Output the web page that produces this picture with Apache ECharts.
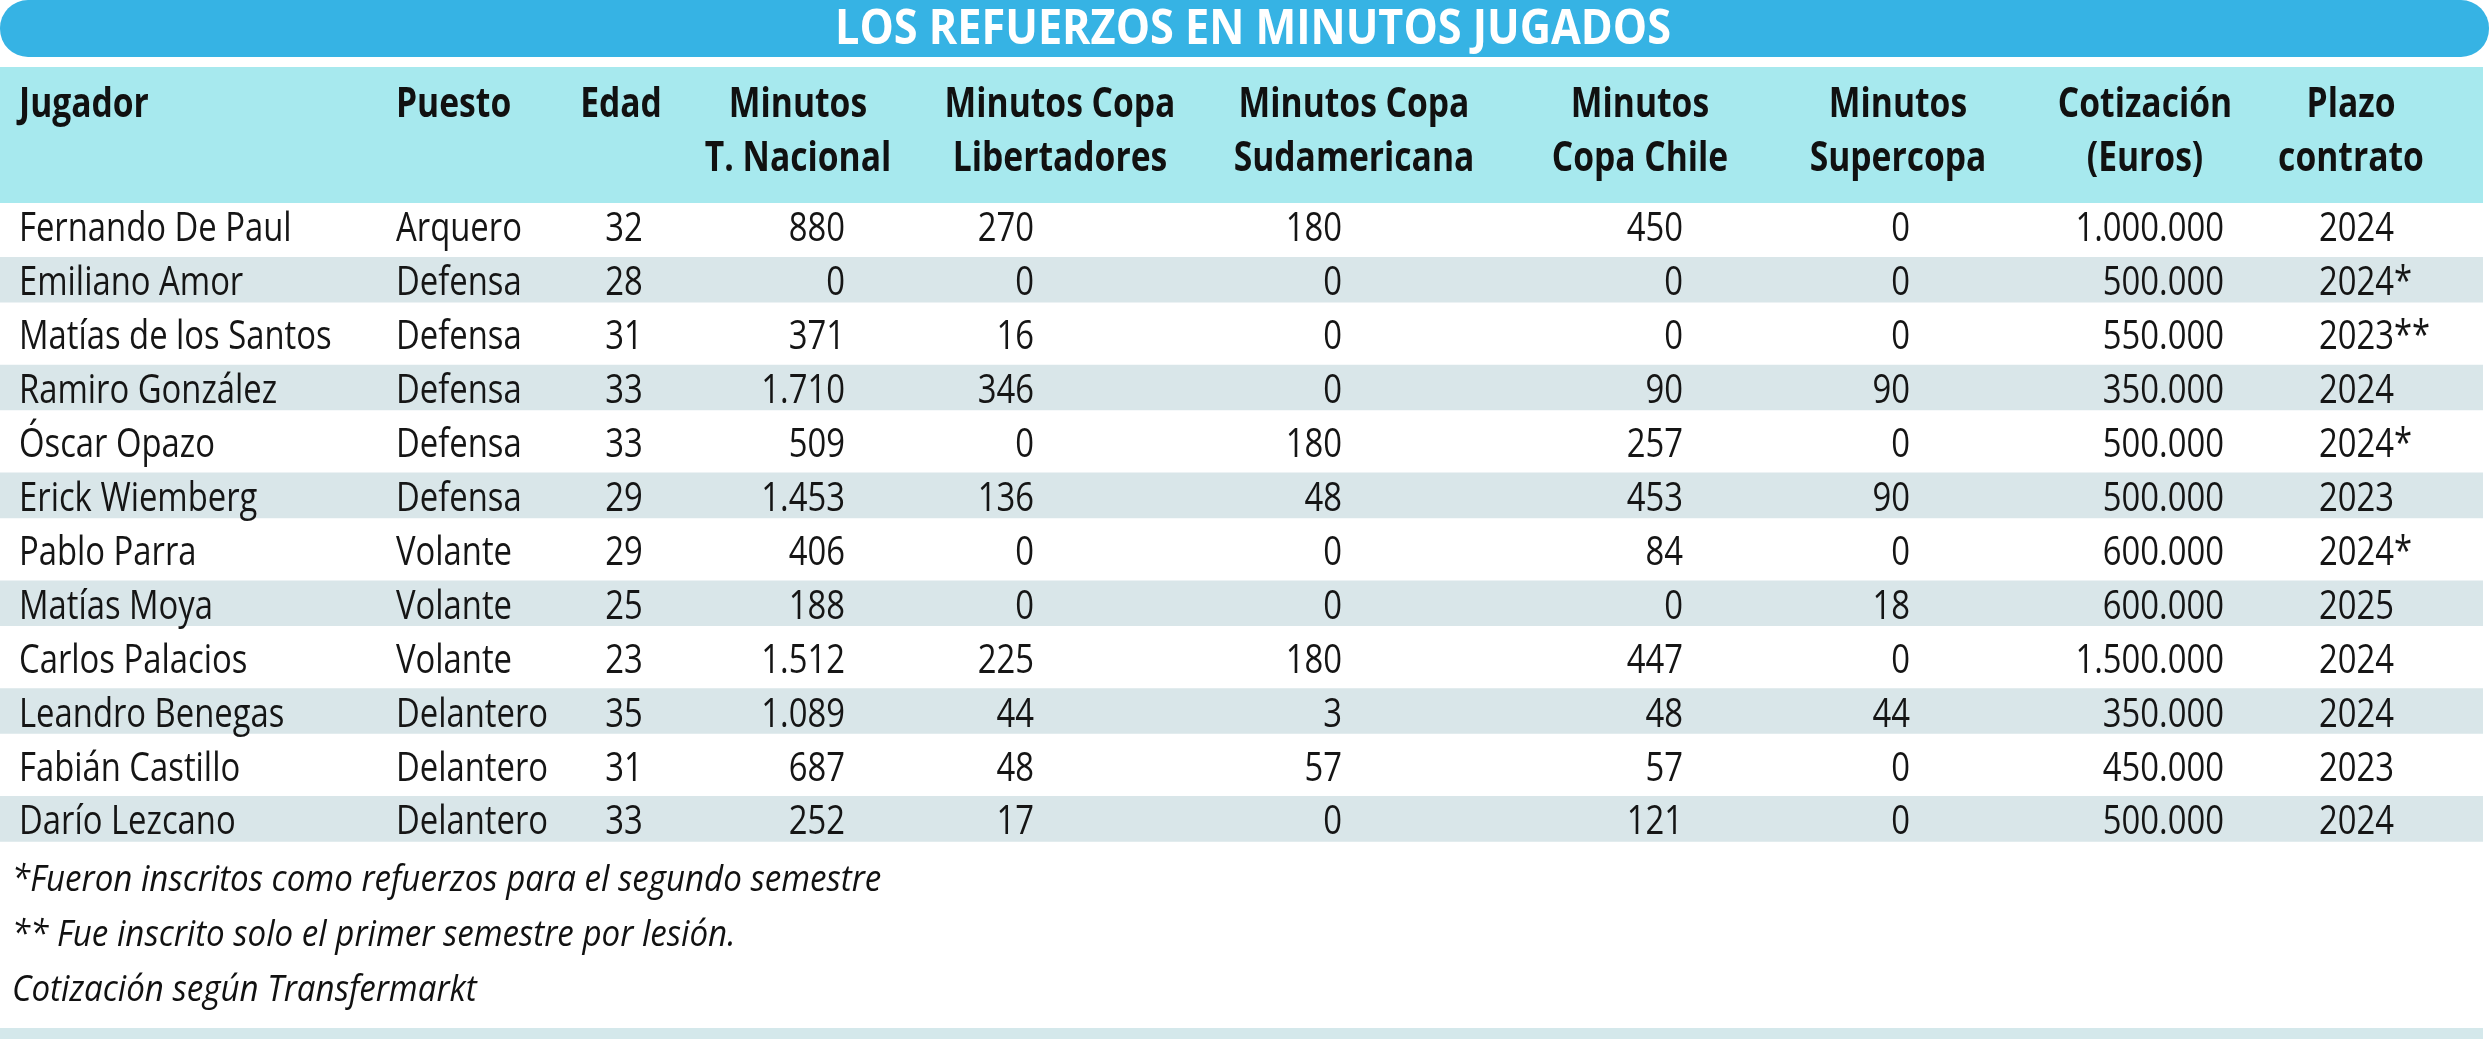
<!DOCTYPE html>
<html>
<head>
<meta charset="utf-8">
<script src="https://cdn.jsdelivr.net/npm/echarts@6/dist/echarts.min.js"></script>
<style>
html, body { margin: 0; padding: 0; background: #fff; }
#tabla { width: 2491px; height: 1039px; }
</style>
</head>
<body>
<div id="tabla"></div>
<script>
// Los refuerzos en minutos jugados - tabla
var titulo = 'LOS REFUERZOS EN MINUTOS JUGADOS';

var jugadores = ['Fernando De Paul', 'Emiliano Amor', 'Matías de los Santos', 'Ramiro González',
    'Óscar Opazo', 'Erick Wiemberg', 'Pablo Parra', 'Matías Moya', 'Carlos Palacios',
    'Leandro Benegas', 'Fabián Castillo', 'Darío Lezcano'];
var puestos = ['Arquero', 'Defensa', 'Defensa', 'Defensa', 'Defensa', 'Defensa',
    'Volante', 'Volante', 'Volante', 'Delantero', 'Delantero', 'Delantero'];
var edades = [32, 28, 31, 33, 33, 29, 29, 25, 23, 35, 31, 33];
var minNacional = [880, 0, 371, 1710, 509, 1453, 406, 188, 1512, 1089, 687, 252];
var minLibertadores = [270, 0, 16, 346, 0, 136, 0, 0, 225, 44, 48, 17];
var minSudamericana = [180, 0, 0, 0, 180, 48, 0, 0, 180, 3, 57, 0];
var minCopaChile = [450, 0, 0, 90, 257, 453, 84, 0, 447, 48, 57, 121];
var minSupercopa = [0, 0, 0, 90, 0, 90, 0, 18, 0, 44, 0, 0];
var cotizacion = [1000000, 500000, 550000, 350000, 500000, 500000, 600000, 600000, 1500000, 350000, 450000, 500000];
var plazo = ['2024', '2024*', '2023**', '2024', '2024*', '2023', '2024*', '2025', '2024', '2024', '2023', '2024'];

var encabezados = [['Jugador'], ['Puesto'], ['Edad'], ['Minutos', 'T. Nacional'],
    ['Minutos Copa', 'Libertadores'], ['Minutos Copa', 'Sudamericana'], ['Minutos', 'Copa Chile'],
    ['Minutos', 'Supercopa'], ['Cotización', '(Euros)'], ['Plazo', 'contrato']];

var notas = ['*Fueron inscritos como refuerzos para el segundo semestre',
    '** Fue inscrito solo el primer semestre por lesión.',
    'Cotización según Transfermarkt'];

// diseño de columnas (posición de anclaje en px y alineación)
var colX = [19, 396, 624, 845, 1034, 1342, 1683, 1910, 2224, 2319];
var colAlign = ['left', 'left', 'center', 'right', 'right', 'right', 'right', 'right', 'right', 'left'];
var headX = [19, 396, 621, 798, 1060, 1354, 1640, 1898, 2145, 2351];
var headAlign = ['left', 'left', 'center', 'center', 'center', 'center', 'center', 'center', 'center', 'center'];

var W = 2491;
var FONT = '"Open Sans", "Noto Sans", sans-serif';
var SX = 0.82;

function miles(n) {
    return String(n).replace(/\B(?=(\d{3})+(?!\d))/g, '.');
}

var filas = jugadores.map(function (j, i) {
    return [j, puestos[i], String(edades[i]), miles(minNacional[i]), miles(minLibertadores[i]),
        miles(minSudamericana[i]), miles(minCopaChile[i]), miles(minSupercopa[i]),
        miles(cotizacion[i]), plazo[i]];
});

var celdas = [];
filas.forEach(function (f, i) {
    f.forEach(function (t, j) { celdas.push([j, i]); });
});

var graficos = [
    // barra del título
    { type: 'rect', shape: { x: 0, y: 0, width: 2489, height: 57, r: 28 }, style: { fill: '#36b3e4' } },
    { type: 'text', x: 1253, y: 30, scaleX: 0.9,
      style: { text: titulo, fill: '#fff', font: 'bold 48px ' + FONT, align: 'center', verticalAlign: 'middle' } },
    // banda de encabezados
    { type: 'rect', shape: { x: 0, y: 67, width: 2483, height: 136 }, style: { fill: '#a7e9ee' } },
    // franja inferior
    { type: 'rect', shape: { x: 0, y: 1028, width: 2483, height: 11 }, style: { fill: '#d4e8eb' } }
];

encabezados.forEach(function (h, c) {
    h.forEach(function (linea, k) {
        graficos.push({ type: 'text', x: headX[c], y: 105 + k * 54, scaleX: SX,
            style: { text: linea, fill: '#111', font: 'bold 41px ' + FONT,
                align: headAlign[c], verticalAlign: 'middle' } });
    });
});

notas.forEach(function (n, k) {
    graficos.push({ type: 'text', x: 12, y: 881 + k * 55, scaleX: 0.92,
        style: { text: n, fill: '#111', font: 'italic 36px ' + FONT, align: 'left', verticalAlign: 'middle' } });
});

var tabla = echarts.init(document.getElementById('tabla'), null, { renderer: 'canvas' });

var option = {
    backgroundColor: '#fff',
    animation: false,
    graphic: graficos,
    grid: { left: 0, right: 0, top: 203, height: 647 },
    xAxis: { type: 'value', min: 0, max: W, show: false },
    yAxis: { type: 'category', data: jugadores, inverse: true, show: false },
    series: [{
        // fondo alterno de filas
        type: 'custom',
        data: jugadores.map(function (j, i) { return [0, i]; }),
        encode: { x: 0, y: 1 },
        silent: true,
        renderItem: function (params, api) {
            var r = api.value(1);
            if (r % 2 === 0) return null;
            var a = api.coord([0, r]);
            var b = api.coord([2483, r]);
            var h = api.size([0, 1])[1];
            return { type: 'rect', shape: { x: a[0], y: a[1] - h / 2, width: b[0] - a[0], height: h * 0.845 },
                style: { fill: '#d9e6e9' } };
        }
    }, {
        // textos de las celdas
        type: 'custom',
        data: celdas,
        encode: { x: 0, y: 1 },
        silent: true,
        renderItem: function (params, api) {
            var c = api.value(0), r = api.value(1);
            var p = api.coord([colX[c], r]);
            return { type: 'text', x: p[0], y: p[1], scaleX: SX,
                style: { text: filas[r][c], fill: '#151515', font: '40px ' + FONT,
                    align: colAlign[c], verticalAlign: 'middle' } };
        }
    }]
};
tabla.setOption(option);
</script>
</body>
</html>
